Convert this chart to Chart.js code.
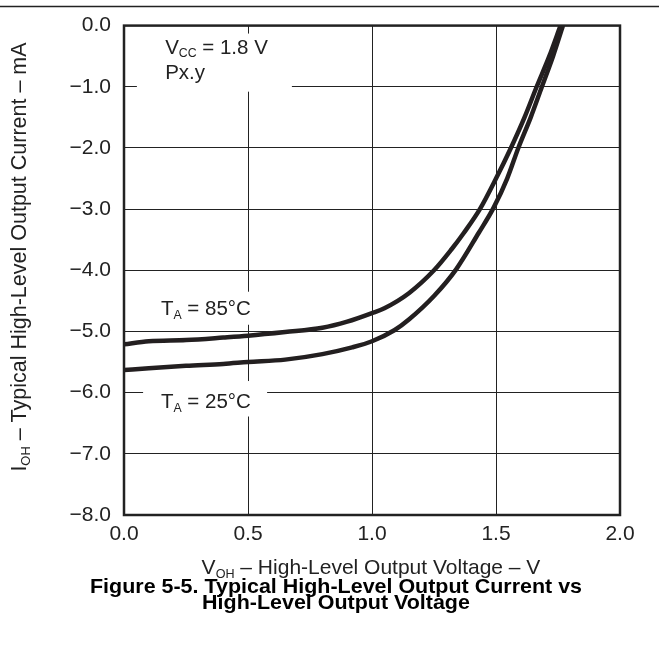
<!DOCTYPE html>
<html>
<head>
<meta charset="utf-8">
<script src="https://cdn.jsdelivr.net/npm/chart.js@4.4.1/dist/chart.umd.min.js"></script>
<style>
  html, body { margin: 0; padding: 0; background: #fff; }
  #wrap { width: 671px; height: 647px; position: relative; }
</style>
</head>
<body>
<div id="wrap"><canvas id="ioh"></canvas></div>
<script>
// values
const volts85 = [0, 0.1, 0.25, 0.4, 0.5, 0.65, 0.8, 0.9, 1.0, 1.05, 1.15, 1.25, 1.32, 1.37, 1.435, 1.5, 1.56, 1.615, 1.664, 1.715, 1.76];
const amps85  = [-5.21, -5.16, -5.14, -5.10, -5.07, -5.01, -4.94, -4.84, -4.70, -4.62, -4.37, -4.00, -3.66, -3.39, -3.00, -2.50, -2.00, -1.50, -1.00, -0.50, 0];
const volts25 = [0, 0.1, 0.25, 0.4, 0.5, 0.65, 0.8, 0.92, 1.0, 1.09, 1.15, 1.25, 1.34, 1.43, 1.49, 1.545, 1.59, 1.64, 1.685, 1.73, 1.77];
const amps25  = [-5.63, -5.60, -5.56, -5.53, -5.50, -5.46, -5.37, -5.26, -5.16, -4.98, -4.80, -4.42, -3.98, -3.39, -2.98, -2.50, -2.00, -1.50, -1.00, -0.50, 0];
const xTicks = [0, 0.5, 1.0, 1.5, 2.0];
const yTicks = [0, -1, -2, -3, -4, -5, -6, -7, -8];

const FONT = '"Liberation Sans", Arial, sans-serif';
const pts = (xs, ys) => xs.map((v, i) => ({ x: v, y: ys[i] }));

// draw text with subscripts: parts = [[text, isSub], ...]
function richWidth(ctx, parts, size) {
  let w = 0;
  for (const [t, sub] of parts) {
    ctx.font = (sub ? size * 0.6 : size) + 'px ' + FONT;
    w += ctx.measureText(t).width;
  }
  return w;
}
function drawRich(ctx, parts, x, y, size) {
  ctx.textBaseline = 'alphabetic';
  ctx.textAlign = 'left';
  for (const [t, sub] of parts) {
    ctx.font = (sub ? size * 0.6 : size) + 'px ' + FONT;
    ctx.fillText(t, x, sub ? y + size * 0.18 : y);
    x += ctx.measureText(t).width;
  }
}

const decor = {
  id: 'decor',
  beforeDatasetsDraw(chart) {
    const { ctx, scales: { x, y } } = chart;
    ctx.save();
    // white knock-outs behind the notes
    ctx.fillStyle = '#fff';
    const box = (v0, v1, i0, i1) => {
      const px0 = x.getPixelForValue(v0), px1 = x.getPixelForValue(v1);
      const py0 = y.getPixelForValue(i0), py1 = y.getPixelForValue(i1);
      ctx.fillRect(px0, py0, px1 - px0, py1 - py0);
    };
    box(0.052, 0.677, -0.13, -1.08);
    box(0.105, 0.57, -4.35, -4.89);
    box(0.077, 0.577, -5.81, -6.39);
    ctx.fillStyle = '#222';
    const s = 20.5;
    drawRich(ctx, [['V', 0], ['CC', 1], [' = 1.8 V', 0]], x.getPixelForValue(0.166), y.getPixelForValue(-0.46), s);
    drawRich(ctx, [['Px.y', 0]], x.getPixelForValue(0.166), y.getPixelForValue(-0.87), s);
    drawRich(ctx, [['T', 0], ['A', 1], [' = 85°C', 0]], x.getPixelForValue(0.149), y.getPixelForValue(-4.735), s);
    drawRich(ctx, [['T', 0], ['A', 1], [' = 25°C', 0]], x.getPixelForValue(0.149), y.getPixelForValue(-6.25), s);
    ctx.restore();
  },
  afterDraw(chart) {
    const { ctx, chartArea: a } = chart;
    ctx.save();
    // plot frame
    ctx.strokeStyle = '#222';
    ctx.lineWidth = 2.5;
    ctx.strokeRect(a.left, a.top, a.right - a.left, a.bottom - a.top);
    // rule along the top of the page
    ctx.lineWidth = 1.5;
    ctx.beginPath();
    ctx.moveTo(0, 6.5);
    ctx.lineTo(659, 6.5);
    ctx.stroke();

    ctx.fillStyle = '#222';
    const s = 21;
    // x axis title
    const xt = [['V', 0], ['OH', 1], [' – High-Level Output Voltage – V', 0]];
    drawRich(ctx, xt, 371 - richWidth(ctx, xt, s) / 2, 574, s);
    // y axis title, rotated
    const yt = [['I', 0], ['OH', 1], [' – Typical High-Level Output Current – mA', 0]];
    ctx.save();
    ctx.translate(26, 257);
    ctx.rotate(-Math.PI / 2);
    drawRich(ctx, yt, -richWidth(ctx, yt, 21.5) / 2, 0, 21.5);
    ctx.restore();

    // caption
    ctx.fillStyle = '#000';
    ctx.font = 'bold 21px ' + FONT;
    ctx.textAlign = 'center';
    ctx.textBaseline = 'alphabetic';
    const cap = ['Figure 5-5. Typical High-Level Output Current vs', 'High-Level Output Voltage'];
    const w0 = ctx.measureText(cap[0]).width;
    const k = 492 / w0;
    ctx.save();
    ctx.translate(336, 0);
    ctx.scale(k, 1);
    ctx.fillText(cap[0], 0, 593);
    ctx.fillText(cap[1], 0, 609);
    ctx.restore();
    ctx.restore();
  }
};

new Chart(document.getElementById('ioh'), {
  type: 'line',
  data: {
    datasets: [
      { label: 'TA = 85°C', data: pts(volts85, amps85) },
      { label: 'TA = 25°C', data: pts(volts25, amps25) }
    ]
  },
  options: {
    responsive: true,
    maintainAspectRatio: false,
    animation: false,
    layout: { padding: { top: 20, right: 51, left: 0, bottom: 0 } },
    elements: {
      line: { borderColor: '#231f20', borderWidth: 4.5, tension: 0.4, cubicInterpolationMode: 'monotone', fill: false },
      point: { radius: 0, hoverRadius: 0 }
    },
    plugins: { legend: { display: false }, tooltip: { enabled: false } },
    scales: {
      x: {
        type: 'linear', min: 0, max: 2,
        afterFit: s => { s.height = 132; },
        afterBuildTicks: s => { s.ticks = xTicks.map(v => ({ value: v })); },
        grid: { color: '#222', lineWidth: 1, drawTicks: false },
        border: { display: false },
        ticks: { color: '#222', padding: 7, font: { family: FONT, size: 21 }, callback: v => v.toFixed(1) }
      },
      y: {
        type: 'linear', min: -8, max: 0,
        afterFit: s => { s.width = 124; },
        afterBuildTicks: s => { s.ticks = yTicks.map(v => ({ value: v })); },
        grid: { color: '#222', lineWidth: 1, drawTicks: false },
        border: { display: false },
        ticks: { color: '#222', padding: 13, font: { family: FONT, size: 21 }, callback: v => v.toFixed(1).replace('-', '−') }
      }
    }
  },
  plugins: [decor]
});
</script>
</body>
</html>
